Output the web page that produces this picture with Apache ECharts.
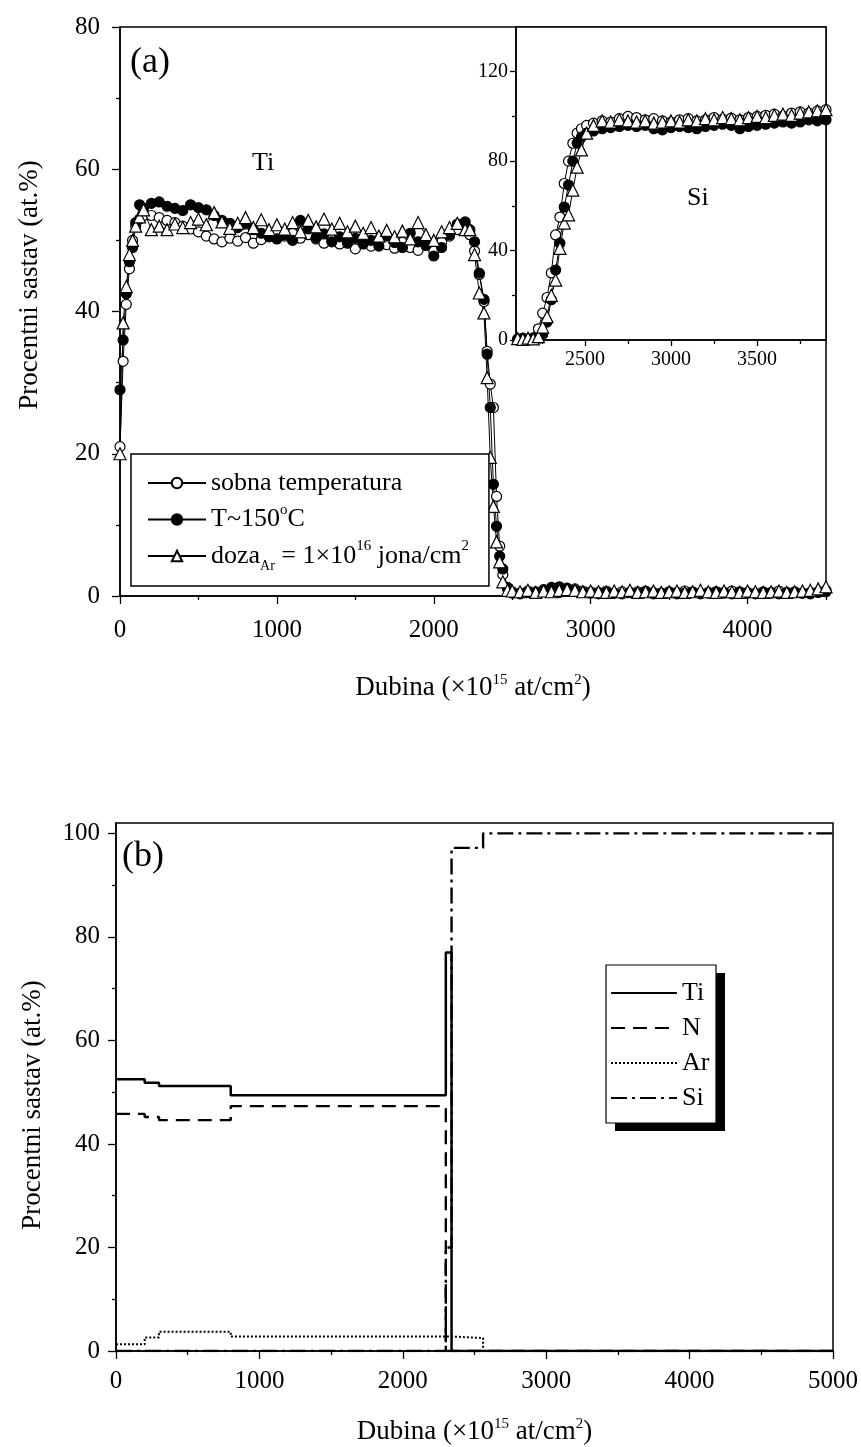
<!DOCTYPE html>
<html>
<head>
<meta charset="utf-8">
<title>Ti / Si dubinski profili</title>
<script src="https://cdn.jsdelivr.net/npm/echarts@6/dist/echarts.min.js"></script>
<style>
  html, body { margin: 0; padding: 0; background: #fff; }
  #chart { width: 861px; height: 1447px; }
</style>
</head>
<body>
<div id="chart"></div>
<script>
// (a) measured Ti profile, three samples
const depthTi = [
  0, 20, 40, 60, 80, 100, 125, 150,
  200, 250, 300, 350, 400, 450, 500, 550, 600, 650,
  700, 750, 800, 850, 900, 950, 1000, 1050, 1100, 1150,
  1200, 1250, 1300, 1350, 1400, 1450, 1500, 1550, 1600, 1650,
  1700, 1750, 1800, 1850, 1900, 1950, 2000, 2050, 2100, 2150,
  2200,
  2230, 2260, 2290, 2320, 2340, 2360, 2380, 2400, 2420, 2440, 2470,
  2500, 2550, 2600, 2650, 2700, 2750, 2800, 2850, 2900, 2950,
  3000, 3050, 3100, 3150, 3200, 3250, 3300, 3350, 3400, 3450,
  3500, 3550, 3600, 3650, 3700, 3750, 3800, 3850, 3900, 3950,
  4000, 4050, 4100, 4150, 4200, 4250, 4300, 4350, 4400, 4450,
  4500
]
const tiRoom = [
  21, 33, 41, 46, 50, 52, 53, 53.5,
  53.5, 53.2, 52.8, 52.5, 52.0, 51.6, 51.2, 50.6, 50.2, 49.8,
  50.3, 49.9, 50.4, 49.6, 50.1, 50.8, 51.2, 50.6, 51.0, 50.3,
  50.8, 50.2, 49.6, 50.1, 49.5, 50.0, 48.8, 49.6, 49.2, 50.1,
  49.4, 48.9, 49.7, 49.0, 48.6, 49.3, 48.5, 49.8, 50.6, 51.5,
  52.0,
  50.8, 48.5, 45.2, 41.4, 34.4, 29.8, 26.5, 14.0, 7.0, 3.0, 1.0,
  0.6, 0.4, 0.7, 0.5, 0.6, 0.8, 0.5, 0.9, 1.0, 0.7,
  0.6, 0.5, 0.7, 0.4, 0.6, 0.5, 0.6, 0.7, 0.5, 0.4,
  0.6, 0.5, 0.7, 0.6, 0.4, 0.5, 0.6, 0.5, 0.7, 0.6,
  0.5, 0.4, 0.6, 0.5, 0.7, 0.5, 0.6, 0.4, 0.5, 0.6,
  0.8
]
const tiHot = [
  29, 36, 42.5, 47, 49, 52.5, 55, 54.5,
  55.2, 55.4, 54.8, 54.5, 54.2, 55.0, 54.6, 54.3, 53.5, 52.8,
  52.4, 51.8, 52.3, 51.5, 51.0, 50.5, 50.2, 50.8, 50.0, 52.8,
  51.6, 50.4, 50.9, 49.8, 50.5, 49.6, 50.3, 49.5, 50.0, 49.2,
  50.6, 49.7, 49.0, 51.0, 49.8, 49.3, 47.8, 49.0, 50.8, 52.3,
  52.6,
  51.5, 49.8, 45.4, 41.7, 34.0, 26.5, 15.7, 9.8, 5.6, 3.8, 1.2,
  0.4, 0.3, 0.5, 0.6, 0.9, 1.2, 1.3, 1.1, 0.8, 0.5,
  0.4, 0.3, 0.5, 0.4, 0.3, 0.5, 0.4, 0.6, 0.3, 0.4,
  0.5, 0.3, 0.4, 0.5, 0.3, 0.4, 0.6, 0.4, 0.3, 0.5,
  0.4, 0.3, 0.5, 0.4, 0.3, 0.4, 0.5, 0.4, 0.3, 0.5,
  0.6
]
const tiDose = [
  20, 38.4, 43.5, 48, 50, 52, 53.3, 54.3,
  51.5, 52.0, 51.5, 52.3, 51.8, 52.5, 53.0, 52.2, 53.9, 52.6,
  51.7, 52.4, 53.2, 51.8, 52.9, 51.5, 52.2, 51.6, 52.5, 51.2,
  52.8, 51.9, 53.0, 51.6, 52.4, 51.2, 52.0, 51.0, 51.8, 50.6,
  51.4, 50.5, 51.3, 50.2, 52.5, 50.8, 50.0, 51.2, 51.8, 52.4,
  51.5,
  51.5, 48.0, 42.6, 39.8, 30.7, 19.5, 12.6, 7.6, 4.8, 2.0, 0.8,
  0.7, 0.6, 0.8, 0.5, 0.7, 0.6, 0.8, 0.9, 0.8, 0.6,
  0.7, 0.6, 0.5, 0.7, 0.6, 0.8, 0.5, 0.6, 0.7, 0.5,
  0.6, 0.7, 0.5, 0.6, 0.8, 0.6, 0.5, 0.7, 0.6, 0.5,
  0.7, 0.6, 0.5, 0.6, 0.7, 0.5, 0.6, 0.7, 0.8, 1.0,
  1.3
]

// (a) inset: Si signal
const depthSi = [
  2110, 2140, 2170, 2200, 2230, 2255, 2280, 2305, 2330, 2355,
  2380, 2405, 2430, 2455, 2480, 2510, 2550,
  2600, 2650, 2700, 2750, 2800, 2850, 2900, 2950, 3000, 3050,
  3100, 3150, 3200, 3250, 3300, 3350, 3400, 3450, 3500, 3550,
  3600, 3650, 3700, 3750, 3800, 3850, 3900
]
const siRoom = [
  0.5, 0.8, 0.4, 1.0, 5.0, 12.0, 19.0, 30.0, 47.0, 55.0,
  70.0, 80.0, 88.0, 92.5, 94.5, 96.0, 97.0,
  98.0, 97.5, 99.0, 100.0, 99.5, 98.5, 99.0, 98.0, 97.5, 98.5,
  99.0, 98.0, 98.5, 99.5, 98.8, 99.2, 98.5, 99.5, 100.0, 100.5,
  101.0, 100.2, 101.5, 102.0, 101.5, 102.5, 103.0
]
const siHot = [
  0.3, 0.5, 0.2, 0.6, 0.8, 2.5, 8.0, 18.0, 31.3, 43.3,
  59.5, 69.3, 80.0, 88.0, 90.8, 92.5, 93.5,
  94.5, 95.0, 95.5, 96.0, 95.5, 96.0, 94.5, 94.0, 95.0, 95.5,
  95.0, 94.5, 95.5, 96.0, 96.5, 96.0, 94.5, 95.5, 96.0, 96.5,
  97.0, 97.5, 97.0, 97.5, 98.5, 98.0, 98.5
]
const siDose = [
  0.6, 0.3, 0.8, 0.5, 1.5, 5.8, 10.4, 20.0, 26.8, 41.0,
  52.3, 56.0, 67.0, 77.3, 85.0, 92.5, 96.0,
  98.0, 97.5, 98.5, 98.0, 97.5, 98.0, 97.0, 97.5, 98.0, 97.5,
  98.5, 98.0, 99.0, 98.5, 99.5, 99.0, 98.5, 99.5, 100.0, 99.5,
  100.5, 101.0, 100.5, 101.5, 102.0, 102.5, 103.0
]

// (b) simulated layer structure (value holds from this depth to the next)
const layerDepth = [0, 200, 300, 800, 2300, 2340, 2560, 5000]
const layerTi = [52.5, 51.8, 51.2, 49.4, 77.0, 0, 0, 0]
const layerN = [45.8, 45.2, 44.6, 47.3, 0, 0, 0, 0]
const layerAr = [1.3, 2.6, 3.7, 2.8, 2.8, 2.5, 0, 0]
const layerSi = [0, 0, 0, 0, 20.0, 97.2, 100, 100]

// tick positions
const xTicksA = [0, 1000, 2000, 3000, 4000]
const xMinorA = [500, 1500, 2500, 3500, 4500]
const xTicksInset = [2500, 3000, 3500]
const xMinorInset = [2250, 2750, 3250, 3750]
const yTicksInset = [0, 40, 80, 120]
const yMinorInset = [20, 60, 100]
const yTicksB = [0, 20, 40, 60, 80, 100]
const yMinorB = [10, 30, 50, 70, 90]

const FONT = "'Liberation Serif', 'DejaVu Serif', serif"

const pairs = (xs, ys) => xs.map((x, i) => [x, ys[i]])

const rich = {
  sup: { fontSize: 15, fontFamily: FONT, color: '#000', verticalAlign: 'top', lineHeight: 15 },
  sub: { fontSize: 14, fontFamily: FONT, color: '#000', verticalAlign: 'bottom', lineHeight: 14 },
}

function titleStyle(padding) {
  return { color: '#000', fontFamily: FONT, fontSize: 27, lineHeight: 30, padding: padding || 0, rich }
}

function axis(gridIndex, position, min, max, o = {}) {
  const tick = { show: true, length: o.tickLen || 8, lineStyle: { color: '#000', width: 1.3 } }
  if (o.ticks) tick.customValues = o.ticks
  const label = {
    show: !o.overlay, color: '#000', fontFamily: FONT,
    fontSize: o.fontSize || 25, margin: o.margin || 12,
    formatter: v => String(v),
  }
  if (o.labels) label.customValues = o.labels
  const ax = {
    type: 'value', gridIndex, position, min, max,
    axisLine: { show: !o.overlay, onZero: false, lineStyle: { color: '#000', width: 1.5 } },
    axisTick: tick,
    axisLabel: label,
    splitLine: { show: false },
  }
  if (o.interval) ax.interval = o.interval
  if (o.minor) ax.minorTick = { show: true, splitNumber: 2, length: 4, lineStyle: { color: '#000', width: 1.3 } }
  if (o.name) {
    ax.name = o.name
    ax.nameLocation = 'middle'
    ax.nameGap = o.nameGap
    ax.nameTextStyle = titleStyle(o.namePadding)
  }
  return ax
}

const marks = {
  room: { symbol: 'circle', symbolSize: 10, itemStyle: { color: '#fff', borderColor: '#000', borderWidth: 1.2 } },
  hot: { symbol: 'circle', symbolSize: 10, itemStyle: { color: '#000', borderColor: '#000', borderWidth: 1.2 } },
  dose: { symbol: 'triangle', symbolSize: 12, itemStyle: { color: '#fff', borderColor: '#000', borderWidth: 1.2 } },
}

function pointSeries(name, mark, xi, yi, xs, ys) {
  return {
    name, type: 'line', xAxisIndex: xi, yAxisIndex: yi,
    data: pairs(xs, ys),
    symbol: mark.symbol, symbolSize: mark.symbolSize, showAllSymbol: true,
    itemStyle: mark.itemStyle,
    lineStyle: { color: '#000', width: 1 },
    emphasis: { disabled: true },
  }
}

function layerSeries(name, ys, type, width) {
  return {
    name, type: 'line', xAxisIndex: 4, yAxisIndex: 3,
    data: pairs(layerDepth, ys),
    step: 'end', symbol: 'none',
    // no marker in the legend either, only the line
    itemStyle: { color: 'rgba(0,0,0,0)', borderWidth: 0 },
    lineStyle: { color: '#000', width, type },
    emphasis: { disabled: true },
  }
}

const legendTopText = {
  'sobna temperatura': 'sobna temperatura',
  'T~150°C': 'T~150{sup|o}C',
  'doza': 'doza{sub|Ar} = 1×10{sup|16} jona/cm{sup|2}',
}

const chart = echarts.init(document.getElementById('chart'))

chart.setOption({
  animation: false,
  backgroundColor: '#fff',
  grid: [
    { left: 120, top: 27, width: 706, height: 569, show: true, borderColor: '#000', borderWidth: 1.5, outerBoundsMode: 'none' },
    { left: 516, top: 27, width: 310, height: 313, show: true, borderColor: '#000', borderWidth: 1.5, backgroundColor: '#fff', outerBoundsMode: 'none' },
    { left: 116, top: 823, width: 717, height: 528, show: true, borderColor: '#000', borderWidth: 1.5, outerBoundsMode: 'none' },
  ],
  xAxis: [
    axis(0, 'bottom', 0, 4500, {
      ticks: xTicksA, labels: xTicksA, margin: 22,
      name: 'Dubina (×10{sup|15} at/cm{sup|2})', nameGap: 77,
    }),
    axis(0, 'bottom', 0, 4500, { overlay: true, ticks: xMinorA, tickLen: 4 }),
    axis(1, 'bottom', 2100, 3900, { ticks: xTicksInset, labels: xTicksInset, fontSize: 20, margin: 10, tickLen: 6 }),
    axis(1, 'bottom', 2100, 3900, { overlay: true, ticks: xMinorInset, tickLen: 4 }),
    axis(2, 'bottom', 0, 5000, {
      interval: 1000, minor: true, margin: 18,
      name: 'Dubina (×10{sup|15} at/cm{sup|2})', nameGap: 66,
    }),
  ],
  yAxis: [
    axis(0, 'left', 0, 80, {
      interval: 20, minor: true, margin: 20,
      name: 'Procentni sastav (at.%)', nameGap: 75, namePadding: [0, 0, 0, 53],
    }),
    axis(1, 'left', 0, 140, { ticks: yTicksInset, labels: yTicksInset, fontSize: 20, margin: 8, tickLen: 6 }),
    axis(1, 'left', 0, 140, { overlay: true, ticks: yMinorInset, tickLen: 4 }),
    axis(2, 'left', 0, 102, {
      ticks: yTicksB, labels: yTicksB, margin: 16,
      name: 'Procentni sastav (at.%)', nameGap: 68, namePadding: [0, 36, 0, 0],
    }),
    axis(2, 'left', 0, 102, { overlay: true, ticks: yMinorB, tickLen: 4 }),
  ],
  legend: [
    {
      data: ['sobna temperatura', 'T~150°C', 'doza'],
      orient: 'vertical', left: 131, top: 454,
      padding: [12, 20, 13, 16], itemGap: 2.5, itemWidth: 58, itemHeight: 13,
      backgroundColor: '#fff', borderColor: '#000', borderWidth: 1.5,
      selectedMode: false,
      formatter: name => legendTopText[name],
      textStyle: { color: '#000', fontFamily: FONT, fontSize: 26, lineHeight: 34, rich },
    },
    {
      // box and drop shadow are drawn in graphic below
      data: ['Ti', 'N', 'Ar', 'Si'],
      orient: 'vertical', left: 606, top: 965,
      padding: [13, 8, 10, 4], itemGap: 5, itemWidth: 66, itemHeight: 14,
      itemStyle: { opacity: 0 },
      selectedMode: false,
      textStyle: { color: '#000', fontFamily: FONT, fontSize: 26, lineHeight: 30 },
    },
  ],
  graphic: [
    { type: 'text', x: 130, y: 63, style: { text: '(a)', fontFamily: FONT, fontSize: 36, fill: '#000', verticalAlign: 'middle' } },
    { type: 'text', x: 252, y: 163, style: { text: 'Ti', fontFamily: FONT, fontSize: 26, fill: '#000', verticalAlign: 'middle' } },
    { type: 'text', x: 687, y: 198, z: 10, style: { text: 'Si', fontFamily: FONT, fontSize: 26, fill: '#000', verticalAlign: 'middle' } },
    { type: 'text', x: 122, y: 857, style: { text: '(b)', fontFamily: FONT, fontSize: 36, fill: '#000', verticalAlign: 'middle' } },
    { type: 'rect', shape: { x: 615, y: 973, width: 110, height: 158 }, style: { fill: '#000' } },
    { type: 'rect', shape: { x: 606, y: 965, width: 110, height: 158 }, style: { fill: '#fff', stroke: '#000', lineWidth: 1.2 } },
  ],
  series: [
    pointSeries('sobna temperatura', marks.room, 0, 0, depthTi, tiRoom),
    pointSeries('T~150°C', marks.hot, 0, 0, depthTi, tiHot),
    pointSeries('doza', marks.dose, 0, 0, depthTi, tiDose),
    pointSeries('sobna temperatura', marks.room, 2, 1, depthSi, siRoom),
    pointSeries('T~150°C', marks.hot, 2, 1, depthSi, siHot),
    pointSeries('doza', marks.dose, 2, 1, depthSi, siDose),
    layerSeries('Si', layerSi, [16, 5, 3, 5], 2.4),
    layerSeries('Ar', layerAr, [2, 2], 2),
    layerSeries('N', layerN, [14, 8], 2.4),
    layerSeries('Ti', layerTi, 'solid', 2.5),
  ],
})
</script>
</body>
</html>
